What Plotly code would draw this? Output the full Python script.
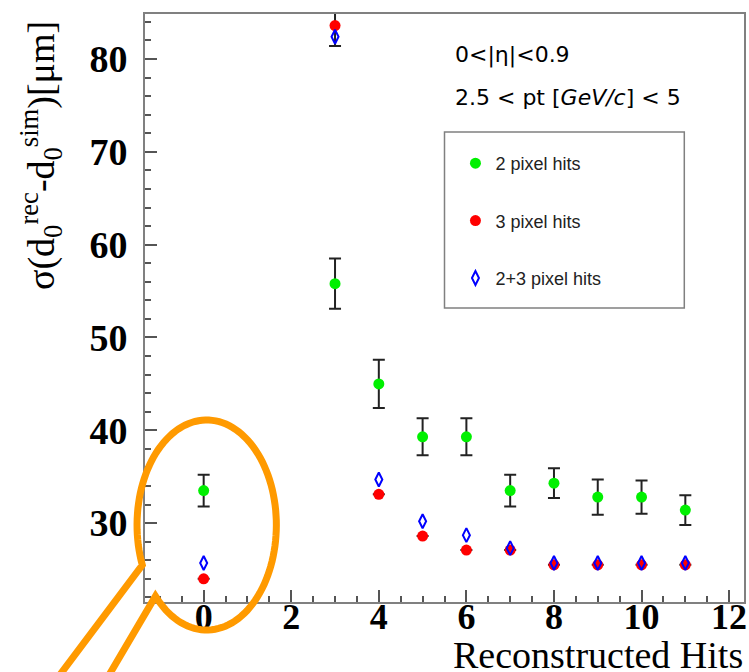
import numpy as np
import plotly.graph_objects as go

# ---------------- data ----------------
hits = [0, 3, 4, 5, 6, 7, 8, 9, 10, 11]
sigma_2pix = [33.5, 55.8, 45.0, 39.3, 39.3, 33.5, 34.3, 32.8, 32.8, 31.4]
err_2pix = [1.7, 2.7, 2.6, 2.0, 2.0, 1.7, 1.6, 1.9, 1.8, 1.6]
sigma_3pix = [24.0, 83.6, 33.1, 28.6, 27.1, 27.1, 25.5, 25.5, 25.5, 25.5]
err_3pix = [0, 2.2, 0, 0, 0, 0, 0, 0, 0, 0]
sigma_23pix = [25.7, 82.4, 34.7, 30.2, 28.7, 27.3, 25.7, 25.7, 25.7, 25.7]
names = ["2 pixel hits", "3 pixel hits", "2+3 pixel hits"]
x_ticks = [0, 2, 4, 6, 8, 10, 12]
y_ticks = [30, 40, 50, 60, 70, 80]

W, H = 749, 672
L, R, T, B = 145, 2, 14, 70
pw, ph = W - L - R, H - T - B


def px(X):
    return (X - L) / pw


def py(Y):
    return (H - B - Y) / ph


fig = go.Figure()
fig.add_trace(go.Scatter(
    x=hits, y=sigma_2pix, mode="markers", name=names[0], legendgroup="a",
    marker=dict(color="#00F000", size=11, symbol="circle"),
    error_y=dict(type="data", array=err_2pix, color="#222222", thickness=2, width=6),
))
fig.add_trace(go.Scatter(
    x=hits, y=sigma_3pix, mode="markers", name=names[1], legendgroup="b",
    marker=dict(color="#FF0000", size=11, symbol="circle"),
    error_y=dict(type="data", array=err_3pix, color="#222222", thickness=2, width=6),
))
fig.add_trace(go.Scatter(
    x=hits, y=sigma_23pix, mode="markers", name=names[2], legendgroup="c",
    marker=dict(color="#0000FF", size=10, symbol="diamond-tall-open",
                line=dict(width=2, color="#0000FF")),
))

axis_common = dict(
    showline=True, linecolor="#808080", linewidth=2, mirror=True,
    ticks="inside", ticklen=12, tickwidth=1.5, tickcolor="#555555",
    showgrid=False, zeroline=False, ticklabeloverflow="allow",
)
fig.update_xaxes(range=[-1.34, 12.34], tickvals=x_ticks, ticklabelstandoff=-18,
                 tickfont=dict(family="Liberation Serif", size=36, color="black", weight="bold"),
                 minor=dict(dtick=0.5, ticks="inside", ticklen=6, tickcolor="#555555"),
                 **axis_common)
fig.update_yaxes(range=[21.5, 84.85], tickvals=y_ticks, ticklabelstandoff=8,
                 tickfont=dict(family="Liberation Serif", size=38, color="black", weight="bold"),
                 minor=dict(dtick=2, ticks="inside", ticklen=6, tickcolor="#555555"),
                 **axis_common)

# orange callout ellipse with tail
cx, cy, rx, ry = 207, 525, 70, 105
ts = np.radians(np.linspace(137.3, -202.4, 120))
pts = [(100, 690), (cx + rx * np.cos(ts[0]), cy + ry * np.sin(ts[0]))]
pts += [(cx + rx * np.cos(t), cy + ry * np.sin(t)) for t in ts]
pts += [(48, 690)]
path = "M " + " L ".join(f"{px(a):.4f},{py(b):.4f}" for a, b in pts)

shapes = [
    dict(type="path", path=path, xref="paper", yref="paper",
         line=dict(color="#FF9A00", width=7), layer="above"),
    dict(type="rect", xref="paper", yref="paper",
         x0=px(446), x1=px(687), y0=py(308), y1=py(132),
         line=dict(color="#808080", width=1.5), layer="below"),
]

annotations = [
    dict(text="0<|η|<0.9", x=px(455), y=py(55), xref="paper", yref="paper",
         xanchor="left", yanchor="middle", showarrow=False,
         font=dict(family="DejaVu Sans", size=22, color="black")),
    dict(text="2.5 < pt [<i>GeV/c</i>] < 5", x=px(455), y=py(97), xref="paper", yref="paper",
         xanchor="left", yanchor="middle", showarrow=False,
         font=dict(family="DejaVu Sans", size=22, color="black")),
    dict(text="σ(d<sub>0</sub><sup>rec</sup>-d<sub>0</sub><sup>sim</sup>)[μm]",
         x=px(40), y=py(292), xref="paper", yref="paper", textangle=-90,
         xanchor="center", yanchor="bottom", showarrow=False,
         font=dict(family="Liberation Serif", size=38, color="black")),
    dict(text="Reconstructed Hits", x=px(748), y=py(655), xref="paper", yref="paper",
         xanchor="right", yanchor="middle", showarrow=False,
         font=dict(family="Liberation Serif", size=38, color="black")),
]

fig.update_layout(
    width=W, height=H, margin=dict(l=L, r=R, t=T, b=B),
    plot_bgcolor="white", paper_bgcolor="white",
    shapes=shapes, annotations=annotations,
    showlegend=True,
    legend=dict(x=px(457), y=py(145), xanchor="left", yanchor="top",
                bgcolor="rgba(0,0,0,0)", borderwidth=0, tracegroupgap=31,
                font=dict(family="Liberation Sans", size=18, color="#222222")),
)

fig.write_html("out.html")
